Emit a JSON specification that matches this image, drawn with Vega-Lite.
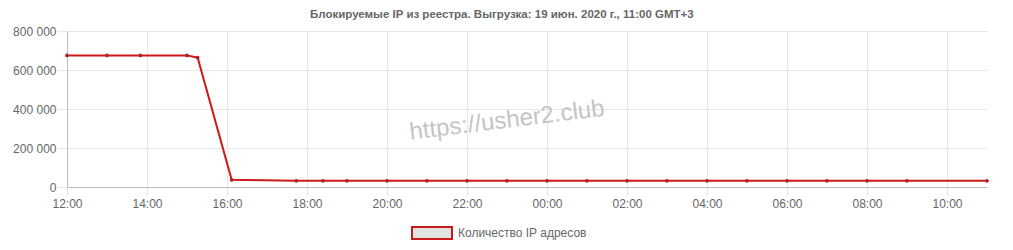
{
  "$schema": "https://vega.github.io/schema/vega-lite/v6.json",
  "width": 920,
  "height": 156,
  "padding": {"left": 12, "top": 8, "right": 5, "bottom": 5},
  "config": {
    "font": "Liberation Sans",
    "view": {"stroke": null},
    "axis": {
      "labelColor": "#666666",
      "labelFontSize": 12,
      "gridColor": "#e6e6e6",
      "tickColor": "#e6e6e6",
      "domainColor": "#bfbfbf"
    }
  },
  "title": {
    "text": "Блокируемые IP из реестра. Выгрузка: 19 июн. 2020 г., 11:00 GMT+3",
    "fontSize": 11.5,
    "fontWeight": "bold",
    "color": "#666666",
    "anchor": "middle",
    "frame": "bounds",
    "offset": 5
  },
  "data": {
    "values": [
      {"time": "2020-06-18T12:00:00Z", "count": 675000},
      {"time": "2020-06-18T13:00:00Z", "count": 675000},
      {"time": "2020-06-18T13:50:00Z", "count": 675000},
      {"time": "2020-06-18T15:00:00Z", "count": 675000},
      {"time": "2020-06-18T15:16:00Z", "count": 663000},
      {"time": "2020-06-18T16:07:00Z", "count": 37000},
      {"time": "2020-06-18T17:44:00Z", "count": 32000},
      {"time": "2020-06-18T18:24:00Z", "count": 32000},
      {"time": "2020-06-18T19:00:00Z", "count": 32000},
      {"time": "2020-06-18T20:00:00Z", "count": 32000},
      {"time": "2020-06-18T21:00:00Z", "count": 32000},
      {"time": "2020-06-18T22:00:00Z", "count": 32000},
      {"time": "2020-06-18T23:00:00Z", "count": 32000},
      {"time": "2020-06-19T00:00:00Z", "count": 32000},
      {"time": "2020-06-19T01:00:00Z", "count": 32000},
      {"time": "2020-06-19T02:00:00Z", "count": 32000},
      {"time": "2020-06-19T03:00:00Z", "count": 32000},
      {"time": "2020-06-19T04:00:00Z", "count": 32000},
      {"time": "2020-06-19T05:00:00Z", "count": 32000},
      {"time": "2020-06-19T06:00:00Z", "count": 32000},
      {"time": "2020-06-19T07:00:00Z", "count": 32000},
      {"time": "2020-06-19T08:00:00Z", "count": 32000},
      {"time": "2020-06-19T09:00:00Z", "count": 32000},
      {"time": "2020-06-19T11:00:00Z", "count": 32000}
    ]
  },
  "layer": [
    {
      "mark": {"type": "line", "strokeWidth": 2},
      "encoding": {
        "x": {
          "field": "time",
          "type": "temporal",
          "title": null,
          "scale": {"type": "utc"},
          "axis": {
            "format": "%H:%M",
            "values": [1592481600000, 1592488800000, 1592496000000, 1592503200000, 1592510400000, 1592517600000, 1592524800000, 1592532000000, 1592539200000, 1592546400000, 1592553600000, 1592560800000],
            "tickCount": 30,
            "tickSize": 8,
            "labelPadding": 3,
            "labelFlush": false,
            "labelOverlap": false,
            "grid": true
          }
        },
        "y": {
          "field": "count",
          "type": "quantitative",
          "title": null,
          "scale": {"domain": [0, 800000]},
          "axis": {
            "values": [0, 200000, 400000, 600000, 800000],
            "tickCount": 10,
            "labelExpr": "datum.value == 0 ? '0' : format(datum.value / 1000, 'd') + ' 000'",
            "tickSize": 9,
            "labelPadding": 2,
            "labelOverlap": false,
            "grid": true
          }
        },
        "color": {
          "datum": "Количество IP адресов",
          "scale": {"range": ["#cc1a1a"]},
          "legend": {
            "title": null,
            "orient": "none",
            "legendX": 344,
            "legendY": 181,
            "symbolType": "M-1,-0.3H1V0.3H-1Z",
            "symbolSize": 1600,
            "symbolStrokeWidth": 2,
            "symbolFillColor": "#e2e2e2",
            "symbolStrokeColor": "#c0343c",
            "labelFontSize": 12,
            "labelColor": "#666666",
            "labelOffset": 5
          }
        }
      }
    },
    {
      "mark": {"type": "point", "filled": true, "size": 14, "color": "#b3222c", "opacity": 1},
      "encoding": {
        "x": {"field": "time", "type": "temporal"},
        "y": {"field": "count", "type": "quantitative"}
      }
    },
    {
      "data": {"values": [{"site": "https://usher2.club"}]},
      "mark": {
        "type": "text",
        "fontSize": 24,
        "angle": 353,
        "color": "#c4c4c4",
        "align": "center",
        "baseline": "middle"
      },
      "encoding": {
        "x": {"datum": 1592521200000, "type": "temporal"},
        "y": {"datum": 340000, "type": "quantitative"},
        "text": {"field": "site"}
      }
    }
  ]
}
